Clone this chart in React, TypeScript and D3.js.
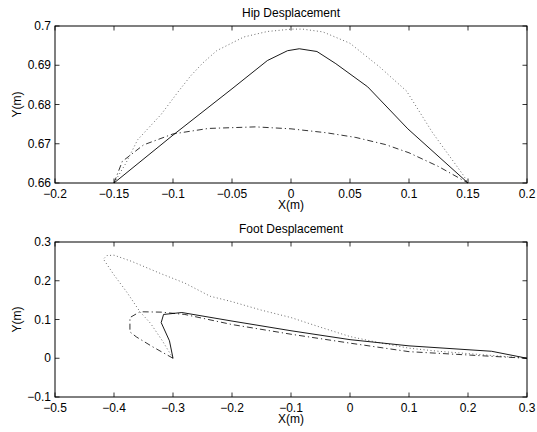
import React from "react";
import * as d3 from "d3";

type P = [number, number];

// ---- Hip displacement ----
const hipSolid: P[] = [
  [-0.15, 0.66], [-0.1, 0.6722], [-0.05, 0.6840], [-0.02, 0.6912], [-0.003, 0.6937],
  [0.007, 0.6942], [0.022, 0.6935], [0.038, 0.6904], [0.065, 0.6845], [0.099, 0.6738], [0.15, 0.66],
];
const hipDotted: P[] = [
  [-0.15, 0.66], [-0.14, 0.665], [-0.13, 0.671], [-0.11, 0.6775], [-0.095, 0.6835],
  [-0.085, 0.6873], [-0.075, 0.6905], [-0.063, 0.6937], [-0.04, 0.6972], [-0.02, 0.6986],
  [0, 0.6992], [0.01, 0.6992], [0.027, 0.6985], [0.05, 0.6956], [0.075, 0.6896],
  [0.098, 0.6834], [0.12, 0.6728], [0.146, 0.662], [0.15, 0.66],
];
const hipDashDot: P[] = [
  [-0.15, 0.66], [-0.143, 0.6655], [-0.125, 0.6697], [-0.1, 0.6725], [-0.07, 0.6739],
  [-0.03, 0.6743], [0, 0.6738], [0.03, 0.6728], [0.055, 0.6716], [0.08, 0.6698],
  [0.1, 0.6677], [0.125, 0.6642], [0.15, 0.66],
];
const hipXTicks = [-0.2, -0.15, -0.1, -0.05, 0, 0.05, 0.1, 0.15, 0.2];
const hipYTicks = [0.66, 0.67, 0.68, 0.69, 0.7];

// ---- Foot displacement ----
const footSolid: P[] = [
  [-0.3, 0], [-0.306, 0.045], [-0.32, 0.092], [-0.316, 0.113], [-0.285, 0.118],
  [-0.2, 0.096], [-0.1, 0.071], [0, 0.048], [0.1, 0.032], [0.24, 0.018], [0.3, 0],
];
const footDotted: P[] = [
  [-0.3, 0], [-0.318, 0.045], [-0.338, 0.09], [-0.356, 0.12], [-0.378, 0.17],
  [-0.4, 0.215], [-0.418, 0.256], [-0.412, 0.265], [-0.4, 0.266], [-0.37, 0.25],
  [-0.32, 0.218], [-0.28, 0.194], [-0.237, 0.16], [-0.2, 0.146], [-0.15, 0.124],
  [-0.1, 0.105], [-0.05, 0.08], [0, 0.056], [0.05, 0.04], [0.1, 0.026],
  [0.15, 0.018], [0.2, 0.012], [0.25, 0.006], [0.3, 0],
];
const footDashDot: P[] = [
  [-0.3, 0], [-0.335, 0.03], [-0.362, 0.055], [-0.373, 0.068], [-0.373, 0.105],
  [-0.356, 0.12], [-0.32, 0.119], [-0.28, 0.113], [-0.2, 0.087], [-0.1, 0.062],
  [0, 0.039], [0.1, 0.017], [0.24, 0.005], [0.3, 0],
];
const footXTicks = [-0.5, -0.4, -0.3, -0.2, -0.1, 0, 0.1, 0.2, 0.3];
const footYTicks = [-0.1, 0, 0.1, 0.2, 0.3];

const FONT = "'Liberation Sans', Arial, Helvetica, sans-serif";
const FS = 12;

function fmt(v: number): string {
  const r = Math.round(v * 1000) / 1000;
  const s = String(Math.abs(r));
  return r < 0 ? "\u2212" + s : s;
}

interface PanelProps {
  top: number;
  bottom: number;
  left: number;
  right: number;
  xDomain: [number, number];
  yDomain: [number, number];
  xTicks: number[];
  yTicks: number[];
  title: string;
  solid: P[];
  dotted: P[];
  dashdot: P[];
}

function Panel(p: PanelProps) {
  const x = d3.scaleLinear().domain(p.xDomain).range([p.left, p.right]);
  const y = d3.scaleLinear().domain(p.yDomain).range([p.bottom, p.top]);
  const line = d3.line<P>().x((d) => x(d[0])).y((d) => y(d[1]));
  const tl = 4.5;
  const cx = (p.left + p.right) / 2;
  const cy = (p.top + p.bottom) / 2;
  return (
    <g>
      <path d={line(p.dotted) || ""} fill="none" stroke="#444" strokeWidth={0.8} strokeDasharray="1,2.5" />
      <path d={line(p.dashdot) || ""} fill="none" stroke="#000" strokeWidth={0.8} strokeDasharray="6,3,1.2,3" />
      <path d={line(p.solid) || ""} fill="none" stroke="#000" strokeWidth={0.9} />
      <rect x={p.left} y={p.top} width={p.right - p.left} height={p.bottom - p.top} fill="none" stroke="#000" strokeWidth={1} />
      {p.xTicks.map((t) => (
        <g key={"x" + t}>
          <line x1={x(t)} x2={x(t)} y1={p.bottom} y2={p.bottom - tl} stroke="#000" strokeWidth={0.8} />
          <line x1={x(t)} x2={x(t)} y1={p.top} y2={p.top + tl} stroke="#000" strokeWidth={0.8} />
          <text x={x(t)} y={p.bottom + 14.5} textAnchor="middle" fontSize={FS} fontFamily={FONT}>{fmt(t)}</text>
        </g>
      ))}
      {p.yTicks.map((t) => (
        <g key={"y" + t}>
          <line x1={p.left} x2={p.left + tl} y1={y(t)} y2={y(t)} stroke="#000" strokeWidth={0.8} />
          <line x1={p.right} x2={p.right - tl} y1={y(t)} y2={y(t)} stroke="#000" strokeWidth={0.8} />
          <text x={p.left - 4} y={y(t)} dy="0.35em" textAnchor="end" fontSize={FS} fontFamily={FONT}>{fmt(t)}</text>
        </g>
      ))}
      <text x={cx} y={p.top - 9} textAnchor="middle" fontSize={FS} fontFamily={FONT}>{p.title}</text>
      <text x={cx} y={p.bottom + 26} textAnchor="middle" fontSize={FS} fontFamily={FONT}>X(m)</text>
      <text transform={`translate(21,${cy}) rotate(-90)`} textAnchor="middle" fontSize={FS} fontFamily={FONT}>Y(m)</text>
    </g>
  );
}

export default function App() {
  return (
    <svg width={537} height={432} style={{ position: "absolute", left: 0, top: 0, background: "#fff" }}>
      <rect x={0} y={0} width={537} height={432} fill="#fff" />
      <Panel top={26} bottom={183} left={55} right={527} xDomain={[-0.2, 0.2]} yDomain={[0.66, 0.7]}
        xTicks={hipXTicks} yTicks={hipYTicks} title="Hip Desplacement"
        solid={hipSolid} dotted={hipDotted} dashdot={hipDashDot} />
      <Panel top={242} bottom={397} left={55} right={527} xDomain={[-0.5, 0.3]} yDomain={[-0.1, 0.3]}
        xTicks={footXTicks} yTicks={footYTicks} title="Foot Desplacement"
        solid={footSolid} dotted={footDotted} dashdot={footDashDot} />
    </svg>
  );
}
